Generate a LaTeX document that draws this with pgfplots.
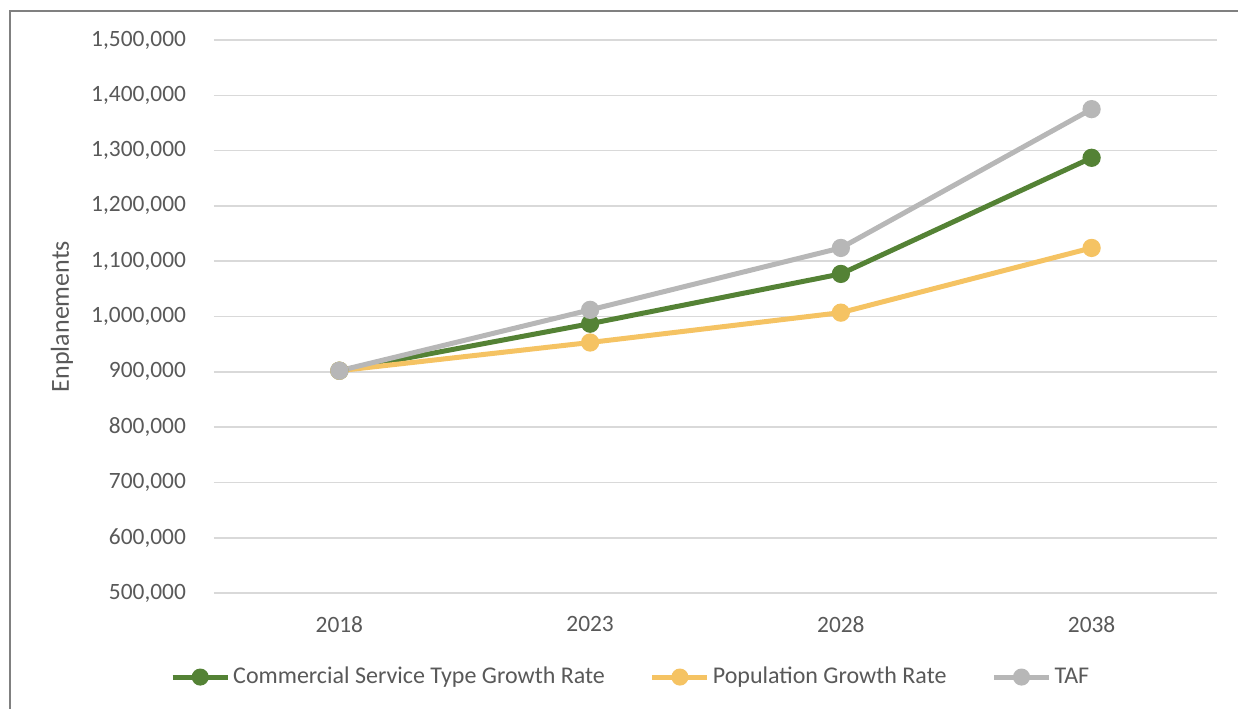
\documentclass[border=0pt]{standalone}
\usepackage{pgfplots}
\pgfplotsset{compat=1.18}
\usepackage{fontspec}
\setmainfont{Carlito}
\definecolor{cgreen}{HTML}{548235}
\definecolor{cyellow}{HTML}{F5C363}
\definecolor{cgray}{HTML}{B7B7B7}
\definecolor{ctext}{HTML}{595959}
\definecolor{cgrid}{HTML}{D9D9D9}
\begin{document}
\begin{tikzpicture}
\path[use as bounding box] (-107pt,-57.5pt) rectangle (512pt,296.5pt);
\draw[color=gray, line width=0.8pt] (-102pt,-60pt) -- (-102pt,291pt) -- (515pt,291pt);
\begin{axis}[
  at={(0,0)}, anchor=south west,
  scale only axis, width=501.5pt, height=276.5pt,
  xmin=-0.5, xmax=3.5, ymin=500000, ymax=1500000,
  xtick={0,1,2,3}, xticklabels={2018,2023,2028,2038},
  ytick={500000,600000,...,1500000},
  axis line style={draw=none},
  tick style={draw=none},
  ymajorgrids, grid style={color=cgrid, line width=0.8pt},
  /pgf/number format/fixed,
  /pgf/number format/1000 sep={,},
  /pgf/number format/assume math mode=true,
  ticklabel style={font=\fontsize{11.7}{13}\selectfont, text=ctext},
  yticklabel style={xshift=-10.5pt},
  xticklabel style={yshift=-8pt},
  scaled y ticks=false,
  ylabel={Enplanements},
  ylabel style={font=\fontsize{13}{15}\selectfont, text=ctext, at={(-76pt,0.5)}, anchor=center},
  every axis plot/.append style={line width=2.5pt, mark=*, mark size=3.3pt},
  legend columns=3,
  legend style={draw=none, at={(0.416,-0.152)}, anchor=center, font=\fontsize{12}{14}\selectfont, text=ctext,
    nodes={inner xsep=1.5pt},
    /tikz/every even column/.append style={column sep=21pt}},
  legend cell align=left,
  legend image code/.code={\draw[#1, mark size=3pt, mark repeat=2, mark phase=2] plot coordinates {(0pt,0pt) (13.75pt,0pt) (27.5pt,0pt)};},
]
\addplot[color=cgreen, mark options={fill=cgreen, draw=cgreen}] coordinates {(0,902000) (1,987000) (2,1077000) (3,1287000)};
\addlegendentry{Commercial Service Type Growth Rate}
\addplot[color=cyellow, mark options={fill=cyellow, draw=cyellow}] coordinates {(0,902000) (1,953000) (2,1007000) (3,1124000)};
\addlegendentry{Population Growth Rate}
\addplot[color=cgray, mark options={fill=cgray, draw=cgray}] coordinates {(0,902000) (1,1012000) (2,1124000) (3,1375000)};
\addlegendentry{TAF}
\end{axis}
\end{tikzpicture}
\end{document}
